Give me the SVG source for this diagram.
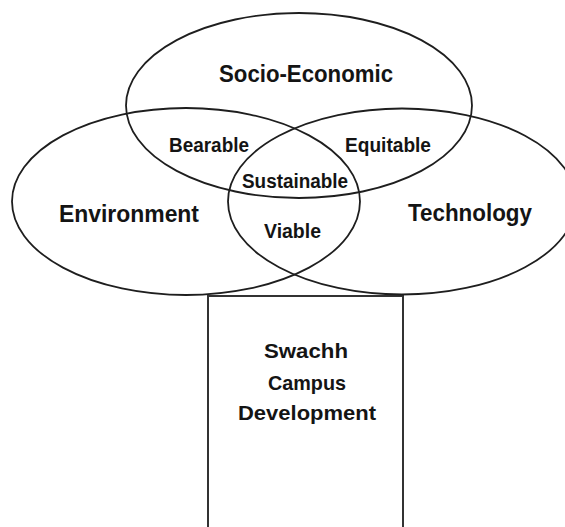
<svg xmlns="http://www.w3.org/2000/svg" width="565" height="527" viewBox="0 0 565 527">
<style>
.shape{fill:none;stroke:#1e1e1e;stroke-width:1.8}
.box{fill:none;stroke:#333;stroke-width:2}
text{font-family:"Liberation Sans",Arial,sans-serif;font-weight:bold;fill:#141414;text-anchor:middle}
.big{font-size:23px}
.mid{font-size:19.5px}
.box-t{font-size:21px}
</style>
<rect width="565" height="527" fill="#fff"/>
<g id="swachh-campus">
<rect class="box" x="208" y="296" width="195" height="240"/>
<text class="box-t" x="306" y="358" textLength="84" lengthAdjust="spacingAndGlyphs">Swachh</text>
<text class="box-t" x="307" y="390" textLength="78" lengthAdjust="spacingAndGlyphs">Campus</text>
<text class="box-t" x="307" y="420" textLength="138" lengthAdjust="spacingAndGlyphs">Development</text>
</g>
<g id="socio-economic">
<ellipse class="shape" cx="299" cy="105.5" rx="173" ry="92.5"/>
<text class="big" x="306" y="82" textLength="174" lengthAdjust="spacingAndGlyphs">Socio-Economic</text>
</g>
<g id="environment">
<ellipse class="shape" cx="186" cy="201.5" rx="174" ry="93.5"/>
<text class="big" x="129" y="222" textLength="140" lengthAdjust="spacingAndGlyphs">Environment</text>
</g>
<g id="technology">
<ellipse class="shape" cx="402" cy="201.5" rx="174" ry="93"/>
<text class="big" x="470" y="221" textLength="124" lengthAdjust="spacingAndGlyphs">Technology</text>
</g>
<g id="bearable">
<text class="mid" x="209" y="152" textLength="80" lengthAdjust="spacingAndGlyphs">Bearable</text>
</g>
<g id="equitable">
<text class="mid" x="388" y="152" textLength="86" lengthAdjust="spacingAndGlyphs">Equitable</text>
</g>
<g id="sustainable">
<text class="mid" x="295" y="188" textLength="106" lengthAdjust="spacingAndGlyphs">Sustainable</text>
</g>
<g id="viable">
<text class="mid" x="292.5" y="238" textLength="57" lengthAdjust="spacingAndGlyphs">Viable</text>
</g>
</svg>
